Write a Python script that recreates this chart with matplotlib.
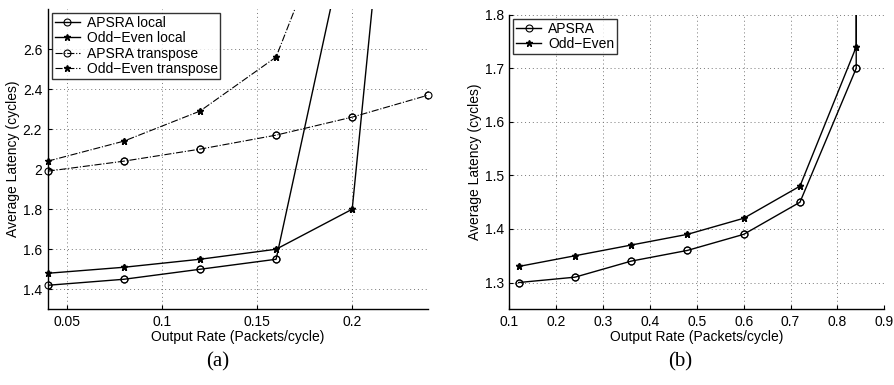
#latency vs output rate, two panels (a) local/transpose and (b) another traffic
import matplotlib.pyplot as plt
import numpy as np

plt.rcParams['font.family'] = ['Liberation Sans', 'DejaVu Sans']

#panel (a) data
rate_a = [0.04, 0.08, 0.12, 0.16, 0.20, 0.24]
apsra_local = [1.42, 1.45, 1.50, 1.55, 3.30]
oe_local = [1.48, 1.51, 1.55, 1.60, 1.80, 5.64]
apsra_transpose = [1.99, 2.04, 2.10, 2.17, 2.26, 2.37]
oe_transpose = [2.04, 2.14, 2.29, 2.56, 3.53]

#panel (b) data
rate_b = [0.12, 0.24, 0.36, 0.48, 0.60, 0.72, 0.84, 0.84]
apsra_b = [1.30, 1.31, 1.34, 1.36, 1.39, 1.45, 1.70, 2.50]
oe_b = [1.33, 1.35, 1.37, 1.39, 1.42, 1.48, 1.74, 2.50]

fig = plt.figure(figsize=(8.94, 3.85), dpi=100)
ax1 = fig.add_axes([0.0534, 0.1966, 0.4257, 0.780])
ax2 = fig.add_axes([0.5697, 0.1966, 0.4195, 0.765])

circ = dict(marker='o', markersize=5, markerfacecolor='none', markeredgewidth=0.8, color='k')
star = dict(marker='*', markersize=4.5, color='k')

def curve(ax, x, y, ls, lw, mk, label):
    x = np.array(x[:len(y)])
    y = np.array(y)
    ax.plot(x, y, linestyle=ls, lw=lw, label=label, **mk)
    #markers inside the limits are drawn unclipped, like matlab does
    lo, hi = ax.get_ylim()
    keep = (y >= lo) & (y <= hi)
    ax.plot(x[keep], y[keep], linestyle='none', clip_on=False, zorder=3, **mk)

ax1.set_xlim(0.04, 0.24)
ax1.set_ylim(1.3, 2.8)
curve(ax1, rate_a, apsra_local, '-', 1, circ, 'APSRA local')
curve(ax1, rate_a, oe_local, '-', 1, star, 'Odd\u2212Even local')
curve(ax1, rate_a, apsra_transpose, '-.', 0.8, circ, 'APSRA transpose')
curve(ax1, rate_a, oe_transpose, '-.', 0.8, star, 'Odd\u2212Even transpose')
ax1.set_xticks([0.05, 0.1, 0.15, 0.2])
ax1.set_xticklabels(['0.05', '0.1', '0.15', '0.2'])
ax1.set_yticks([1.4, 1.6, 1.8, 2.0, 2.2, 2.4, 2.6])
ax1.set_yticklabels(['1.4', '1.6', '1.8', '2', '2.2', '2.4', '2.6'])

ax2.set_xlim(0.1, 0.9)
ax2.set_ylim(1.25, 1.8)
curve(ax2, rate_b, apsra_b, '-', 1, circ, 'APSRA')
curve(ax2, rate_b, oe_b, '-', 1, star, 'Odd\u2212Even')
ax2.set_xticks(np.arange(0.1, 0.95, 0.1))
ax2.set_xticklabels(['0.1', '0.2', '0.3', '0.4', '0.5', '0.6', '0.7', '0.8', '0.9'])
ax2.set_yticks([1.3, 1.4, 1.5, 1.6, 1.7, 1.8])

for ax in [ax1, ax2]:
    ax.spines['top'].set_visible(False)
    ax.spines['right'].set_visible(False)
    ax.spines['left'].set_linewidth(1)
    ax.spines['bottom'].set_linewidth(1)
    ax.grid(True, linestyle=(0, (1, 3)), color='#777777', lw=0.7)
    ax.tick_params(direction='in', length=3, labelsize=10, pad=4)
    ax.set_xlabel('Output Rate (Packets/cycle)', fontsize=10, labelpad=1)
    ax.set_ylabel('Average Latency (cycles)', fontsize=10, labelpad=2)
    leg = ax.legend(loc='upper left', fontsize=10, fancybox=False, edgecolor='k',
                    handlelength=1.8, borderpad=0.2, labelspacing=0.1, handletextpad=0.5,
                    borderaxespad=0.3)
    leg.get_frame().set_linewidth(1)
    leg.set_zorder(5)

fig.text(0.244, 0.06, '(a)', fontsize=15, family='Liberation Serif', ha='center', va='center')
fig.text(0.761, 0.06, '(b)', fontsize=15, family='Liberation Serif', ha='center', va='center')

fig.savefig('out.png', dpi=100)
